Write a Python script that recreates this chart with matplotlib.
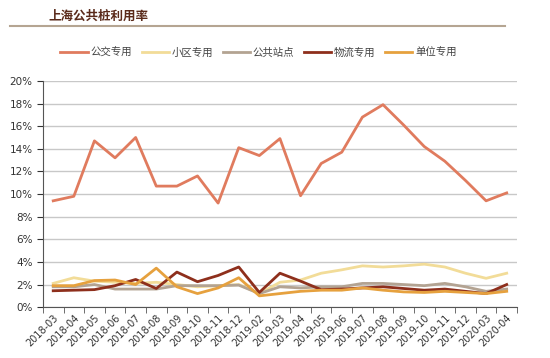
import matplotlib
matplotlib.use("Agg")
from matplotlib import pyplot as plt
from matplotlib.ticker import FixedLocator, FuncFormatter
import numpy as np

plt.rcParams['font.family'] = ['Noto Sans CJK SC', 'DejaVu Sans']

# --- data ---
months = ["2018-03", "2018-04", "2018-05", "2018-06", "2018-07", "2018-08",
          "2018-09", "2018-10", "2018-11", "2018-12", "2019-02", "2019-03",
          "2019-04", "2019-05", "2019-06", "2019-07", "2019-08", "2019-09",
          "2019-10", "2019-11", "2019-12", "2020-03", "2020-04"]

bus       = [9.4, 9.8, 14.7, 13.2, 15.0, 10.7, 10.7, 11.6, 9.2, 14.1, 13.4, 14.9,
             9.85, 12.7, 13.7, 16.8, 17.9, 16.1, 14.2, 12.9, 11.2, 9.4, 10.1]
community = [2.1, 2.6, 2.3, 2.2, 2.1, 2.2, 2.0, 1.8, 1.9, 2.0, 1.2, 2.2,
             2.4, 3.0, 3.3, 3.65, 3.55, 3.65, 3.8, 3.55, 3.0, 2.55, 3.0]
station   = [1.8, 1.8, 2.0, 1.6, 1.6, 1.6, 1.9, 1.9, 1.9, 1.95, 1.2, 1.8,
             1.7, 1.8, 1.8, 2.1, 2.1, 2.0, 1.9, 2.1, 1.8, 1.4, 1.6]
logistics = [1.45, 1.5, 1.55, 1.9, 2.45, 1.65, 3.1, 2.25, 2.8, 3.55, 1.3, 3.0,
             2.3, 1.55, 1.6, 1.7, 1.8, 1.65, 1.5, 1.6, 1.4, 1.2, 2.0]
unit      = [1.9, 1.9, 2.35, 2.4, 2.0, 3.45, 1.8, 1.2, 1.7, 2.6, 1.0, 1.2,
             1.4, 1.5, 1.5, 1.7, 1.5, 1.35, 1.3, 1.4, 1.3, 1.2, 1.4]

series = [("公交专用", bus, "#e07b5e"),
          ("小区专用", community, "#f2dc98"),
          ("公共站点", station, "#b3a392"),
          ("物流专用", logistics, "#8e2f1c"),
          ("单位专用", unit, "#e6a13e")]

# --- figure ---
fig = plt.figure(figsize=(5.5, 3.58), dpi=100)
ax = fig.add_axes([0.078, 0.142, 0.862, 0.632])

x = np.arange(len(months))
for name, vals, col in series:
    ax.plot(x, vals, color=col, lw=2.0, label=name)

ax.set_xlim(-0.5, len(months) - 0.5)
ax.set_ylim(0, 20)
ax.set_yticks(np.arange(0, 21, 2))
ax.yaxis.set_major_formatter(FuncFormatter(lambda v, p: "%d%%" % v))
ax.grid(axis="y", color="#c8c8c8", lw=1.0)
ax.set_axisbelow(True)

ax.set_xticks(x)
ax.set_xticklabels(months, rotation=45, ha="right", rotation_mode="anchor",
                   family="DejaVu Sans")
ax.xaxis.set_minor_locator(FixedLocator(np.arange(-0.5, len(months), 1.0)))
ax.tick_params(axis="x", which="major", length=0, labelsize=7, pad=4,
               colors="#333333")
ax.tick_params(axis="x", which="minor", length=4, color="#555555")
ax.tick_params(axis="y", length=4, labelsize=7.5, colors="#333333")
for lab in ax.get_yticklabels():
    lab.set_family("DejaVu Sans")

for s in ["top", "right"]:
    ax.spines[s].set_visible(False)
ax.spines["left"].set_color("#555555")
ax.spines["bottom"].set_color("#555555")

# title and rule
fig.text(0.088, 0.955, "上海公共桩利用率", fontsize=9, fontweight="bold",
         color="#5a2a1a", va="center")
fig.add_artist(plt.Line2D([0.018, 0.918], [0.928, 0.928], color="#b5a592",
                          lw=1.5, transform=fig.transFigure))

leg = fig.legend(loc="center", bbox_to_anchor=(0.47, 0.852), ncol=5,
                 frameon=False, fontsize=7.5, handlelength=2.6,
                 columnspacing=0.9, handletextpad=0.3)
for t in leg.get_texts():
    t.set_color("#444444")

fig.savefig("out.png", dpi=100, facecolor="white")
